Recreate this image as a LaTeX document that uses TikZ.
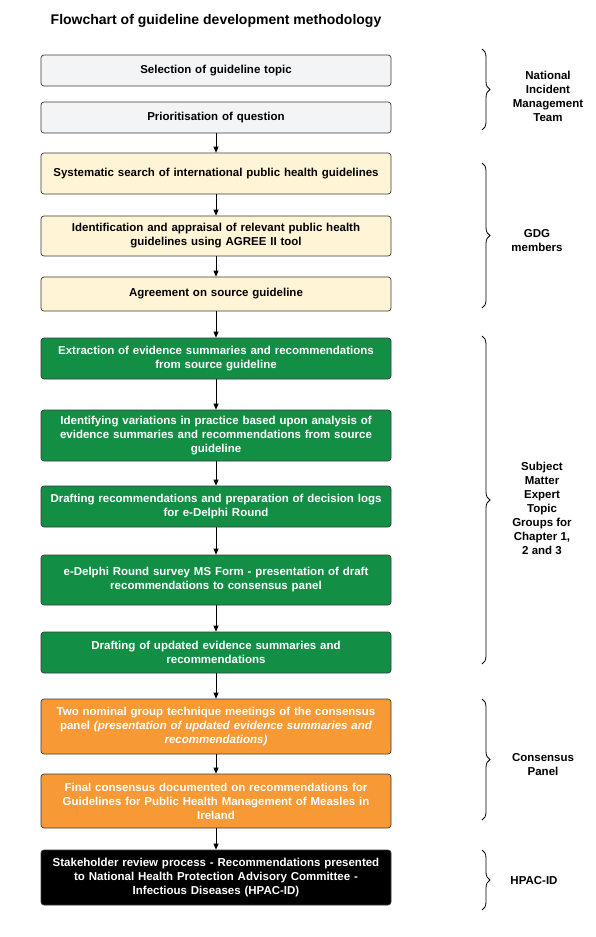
\documentclass[tikz,border=0pt]{standalone}
\usepackage{fontspec}
\setmainfont{Liberation Sans}
\usetikzlibrary{arrows.meta,decorations.pathreplacing}
\definecolor{greyfill}{HTML}{F3F4F6}
\definecolor{yellowfill}{HTML}{FFF5D6}
\definecolor{greenfill}{HTML}{128F45}
\definecolor{orangefill}{HTML}{F79935}
\definecolor{boxline}{HTML}{3A3A3A}
\begin{document}
\begin{tikzpicture}[x=1pt,y=-1pt,
  base/.style={rounded corners=3pt, draw=boxline, line width=0.7pt,
    minimum width=350pt, text width=340pt, align=center, inner sep=0pt,
    font=\fontsize{11.5}{14}\selectfont\bfseries},
  greybox/.style={base, fill=greyfill, text=black},
  yellowbox/.style={base, fill=yellowfill, text=black},
  greenbox/.style={base, fill=greenfill, text=white},
  orangebox/.style={base, fill=orangefill, text=white},
  blackbox/.style={base, fill=black, text=white},
  flow/.style={-{Triangle[length=6pt,width=5pt]}, line width=0.8pt, black},
  bracestyle/.style={decorate, decoration={brace, amplitude=8pt}, line width=0.8pt, black},
  sidelabel/.style={align=center, font=\fontsize{11.5}{14}\selectfont\bfseries, inner sep=0pt}
]
\useasboundingbox (0,0) rectangle (596,937);

\node[font=\fontsize{14}{16}\selectfont\bfseries] (title) at (216,21) {Flowchart of guideline development methodology};

\node[greybox, minimum height=31pt] (b1) at (216,70.5) {Selection of guideline topic};
\node[greybox, minimum height=31pt] (b2) at (216,117.5) {Prioritisation of question};
\node[yellowbox, minimum height=41pt] (b3) at (216,173.5) {Systematic search of international public health guidelines};
\node[yellowbox, minimum height=40pt] (b4) at (216,236) {Identification and appraisal of relevant public health\\guidelines using AGREE II tool};
\node[yellowbox, minimum height=34pt] (b5) at (216,294) {Agreement on source guideline};
\node[greenbox, minimum height=41pt] (g1) at (216,358.5) {Extraction of evidence summaries and recommendations\\from source guideline};
\node[greenbox, minimum height=51pt] (g2) at (216,435.5) {Identifying variations in practice based upon analysis of\\evidence summaries and recommendations from source\\guideline};
\node[greenbox, minimum height=41pt] (g3) at (216,506.5) {Drafting recommendations and preparation of decision logs\\for e-Delphi Round};
\node[greenbox, minimum height=50pt] (g4) at (216,580) {e-Delphi Round survey MS Form - presentation of draft\\recommendations to consensus panel};
\node[greenbox, minimum height=41pt] (g5) at (216,652.5) {Drafting of updated evidence summaries and\\recommendations};
\node[orangebox, minimum height=55pt] (o1) at (216,726.5) {Two nominal group technique meetings of the consensus\\panel \textit{(presentation of updated evidence summaries and\\recommendations)}};
\node[orangebox, minimum height=54pt] (o2) at (216,801) {Final consensus documented on recommendations for\\Guidelines for Public Health Management of Measles in\\Ireland};
\node[blackbox, minimum height=55pt] (k) at (216,877.5) {Stakeholder review process - Recommendations presented\\to National Health Protection Advisory Committee -\\Infectious Diseases (HPAC-ID)};

\draw[flow] (b2) -- (b3);
\draw[flow] (b3) -- (b4);
\draw[flow] (b4) -- (b5);
\draw[flow] (b5) -- (g1);
\draw[flow] (g1) -- (g2);
\draw[flow] (g2) -- (g3);
\draw[flow] (g3) -- (g4);
\draw[flow] (g4) -- (g5);
\draw[flow] (g5) -- (o1);
\draw[flow] (o1) -- (o2);
\draw[flow] (o2) -- (k);

\coordinate (r1t) at (482,49);  \coordinate (r1b) at (482,130);
\coordinate (r2t) at (482,163); \coordinate (r2b) at (482,308);
\coordinate (r3t) at (482,336); \coordinate (r3b) at (482,664);
\coordinate (r4t) at (482,699); \coordinate (r4b) at (482,820);
\coordinate (r5t) at (482,850); \coordinate (r5b) at (482,910);
\draw[bracestyle] (r1t) -- (r1b);
\draw[bracestyle] (r2t) -- (r2b);
\draw[bracestyle] (r3t) -- (r3b);
\draw[bracestyle] (r4t) -- (r4b);
\draw[bracestyle] (r5t) -- (r5b);

\node[sidelabel] (l1) at (548,96) {National\\Incident\\Management\\Team};
\node[sidelabel] (l2) at (537,241) {GDG\\members};
\node[sidelabel] (l3) at (542,508) {Subject\\Matter\\Expert\\Topic\\Groups for\\Chapter 1,\\2 and 3};
\node[sidelabel] (l4) at (543,765) {Consensus\\Panel};
\node[sidelabel] (l5) at (534,881) {HPAC-ID};
\end{tikzpicture}
\end{document}
